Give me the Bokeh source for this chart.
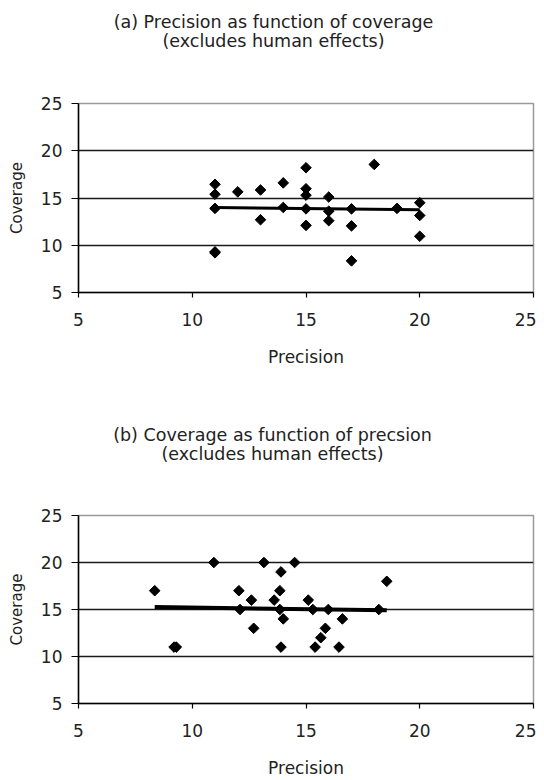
import numpy as np
from bokeh.plotting import figure
from bokeh.models import FixedTicker, Range1d
from bokeh.core.properties import value
from bokeh.layouts import column
from bokeh.embed import file_html
from bokeh.resources import INLINE

# Underlying pairs: integer-valued measure and decimal-valued measure
int_vals = [11, 11, 11, 11, 11, 12, 13, 13, 14, 14, 15, 15, 15, 15, 15,
            16, 16, 16, 17, 17, 17, 18, 19, 20, 20, 20]
dec_vals = [16.45, 15.4, 13.9, 9.2, 9.3, 15.65, 15.85, 12.7, 16.6, 14.0,
            18.2, 15.98, 15.3, 13.85, 12.1, 15.1, 13.6, 12.6, 13.85, 12.05,
            8.35, 18.55, 13.9, 14.5, 13.15, 10.95]

title_a = ["(a) Precision as function of coverage", "(excludes human effects)"]
title_b = ["(b) Coverage as function of precsion", "(excludes human effects)"]
ticks = [5, 10, 15, 20, 25]
grid_ticks = [10, 15, 20]

FONT = "DejaVu Sans"
W = 536
TH = 60          # height of the title strip
ML, MR = 78, 3   # plot borders (frames are aligned across the column)


def make_title(lines, cx, ys):
    # x range expressed in page pixels so the text can be centred on the page
    t = figure(width=W, height=TH, x_range=Range1d(ML, W - MR), y_range=Range1d(TH, 0),
               output_backend="svg", toolbar_location=None,
               x_axis_location=None, y_axis_location=None,
               min_border_left=ML, min_border_right=MR, min_border_top=0, min_border_bottom=0,
               outline_line_color=None, border_fill_color="white")
    t.grid.visible = False
    t.text(x=[cx, cx], y=ys, text=lines, text_font=value(FONT), text_font_size="17.5px",
           text_align="center", text_baseline="middle", text_color="#222222")
    return t


def make(xv, yv, lw, height, mbb):
    p = figure(width=W, height=height, x_range=Range1d(5, 25), y_range=Range1d(5, 25),
               output_backend="svg", toolbar_location=None,
               min_border_left=ML, min_border_right=MR, min_border_top=43,
               min_border_bottom=mbb, outline_line_color="#9a9a9a", outline_line_width=1.5,
               background_fill_color="white", border_fill_color="white")

    for ax in (p.xaxis[0], p.yaxis[0]):
        ax.ticker = FixedTicker(ticks=ticks)
        ax.minor_tick_line_color = None
        ax.major_tick_in = 0
        ax.axis_line_color = "black"
        ax.axis_line_width = 1.5
        ax.major_tick_line_color = "black"
        ax.major_tick_line_width = 1.2
        ax.major_label_text_font = FONT
        ax.major_label_text_font_size = "17px"
        ax.major_label_text_color = "#222222"
        ax.axis_label_text_font = FONT
        ax.axis_label_text_font_style = "normal"
        ax.axis_label_text_color = "#222222"
    p.xaxis.major_tick_out = 5
    p.yaxis.major_tick_out = 7
    p.xaxis.major_label_standoff = 15
    p.yaxis.major_label_standoff = 9
    p.xaxis.axis_label = "Precision"
    p.yaxis.axis_label = "Coverage"
    p.xaxis.axis_label_text_font_size = "17px"
    p.yaxis.axis_label_text_font_size = "15px"
    p.xaxis.axis_label_standoff = 18
    p.yaxis.axis_label_standoff = 12

    p.xgrid.visible = False
    p.ygrid.ticker = FixedTicker(ticks=grid_ticks)
    p.ygrid.grid_line_color = "#1a1a1a"
    p.ygrid.grid_line_width = 1.5

    slope, icpt = np.polyfit(xv, yv, 1)
    tx = np.array([min(xv), max(xv)])
    p.line(tx, slope * tx + icpt, line_color="black", line_width=lw)
    p.scatter(xv, yv, marker="square", angle=np.pi / 4, size=7.5,
              fill_color="black", line_color="black")
    return p


ta = make_title(title_a, 273, [21, 40])
pa = make(int_vals, dec_vals, 3, 352, 120)
tb = make_title(title_b, 272, [22, 41.5])
pb = make(dec_vals, int_vals, 4, 308, 74)

layout = column(ta, pa, tb, pb, spacing=0)
open("out.html", "w").write(file_html(layout, INLINE))
